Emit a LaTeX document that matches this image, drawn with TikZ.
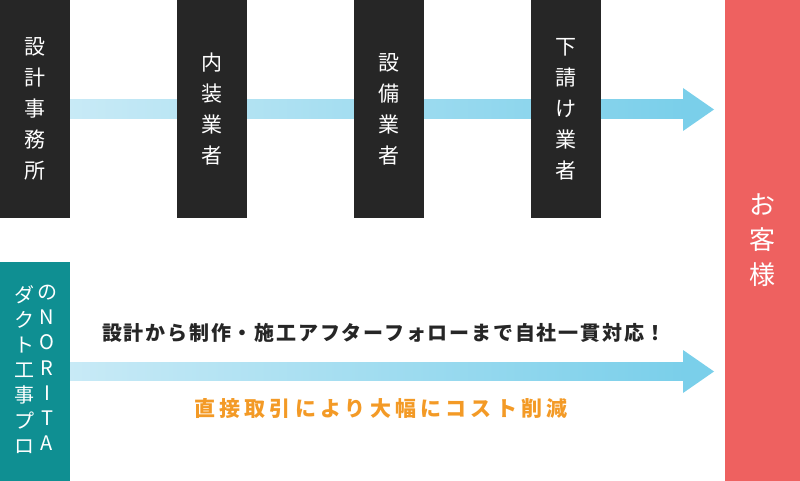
\documentclass[tikz,border=0pt]{standalone}
\usepackage{fontspec}
\newfontfamily\jp{Noto Sans CJK JP}
\newfontfamily\jpcap[LetterSpace=9]{Noto Sans CJK JP}
\newfontfamily\jporg[LetterSpace=20]{Noto Sans CJK JP}
\usetikzlibrary{calc}
\definecolor{boxblack}{HTML}{262626}
\definecolor{noritateal}{HTML}{0F8F92}
\definecolor{custred}{HTML}{EE6160}
\definecolor{arrowL}{HTML}{C8EAF6}
\definecolor{arrowR}{HTML}{7ACFEA}
\definecolor{orangetxt}{HTML}{F39A26}
\begin{document}
\begin{tikzpicture}[x=1pt,y=-1pt,
  darkbox/.style={fill=boxblack, minimum width=70pt, minimum height=218pt, inner sep=0pt,
    text=white, font=\jp\fontsize{21}{31}\selectfont, align=center},
  tealbox/.style={fill=noritateal, minimum width=70pt, minimum height=219pt, inner sep=0pt},
  redbox/.style={fill=custred, minimum width=75pt, minimum height=481pt, inner sep=0pt,
    text=white, font=\jp\fontsize{26}{35}\selectfont, align=center},
  coltext/.style={text=white, inner sep=0pt, align=center, font=\jp\fontsize{20}{25.2}\selectfont},
  shaftshade/.style={left color=arrowL, right color=arrowR},
  headfill/.style={fill=arrowR}
]
\useasboundingbox (0,0) rectangle (800,481);

% arrows (behind the boxes)
\coordinate (tstart) at (70,109);
\coordinate (ttip) at (714,109.5);
\coordinate (bstart) at (70,371);
\coordinate (btip) at (714,371.5);
\shade[shaftshade] ($(tstart)+(0,-9)$) rectangle ($(ttip)+(-30,9)$);
\fill[headfill] ($(ttip)+(-31,-21.5)$) -- (ttip) -- ($(ttip)+(-31,21.5)$) -- cycle;
\shade[shaftshade] ($(bstart)+(0,-9)$) rectangle ($(btip)+(-30,9)$);
\fill[headfill] ($(btip)+(-31,-21.5)$) -- (btip) -- ($(btip)+(-31,21.5)$) -- cycle;

% top boxes
\node[darkbox] (d1) at (35,109) {設\\計\\事\\務\\所};
\node[darkbox] (d2) at (212,109) {内\\装\\業\\者};
\node[darkbox] (d3) at (389,109) {設\\備\\業\\者};
\node[darkbox] (d4) at (566,109) {下\\請\\け\\業\\者};

% teal box
\node[tealbox] (tb) at (35,371.5) {};
\node[coltext, anchor=north] (tl) at (24,285) {ダ\\ク\\ト\\工\\事\\プ\\ロ};
\node[coltext, anchor=north] (tr) at (47,285) {の\\N\\O\\R\\I\\T\\A};

% red box
\node[redbox] (rb) at (762.5,240.5) {お\\客\\様};

% captions
\node[anchor=west, inner sep=0pt, text=boxblack, font=\jpcap\bfseries\fontsize{20}{24}\selectfont] (cap) at (102,333) {設計から制作・施工アフターフォローまで自社一貫対応！};
\node[anchor=west, inner sep=0pt, text=orangetxt, font=\jporg\bfseries\fontsize{21}{25}\selectfont] (org) at (194,409) {直接取引により大幅にコスト削減};
\end{tikzpicture}
\end{document}
